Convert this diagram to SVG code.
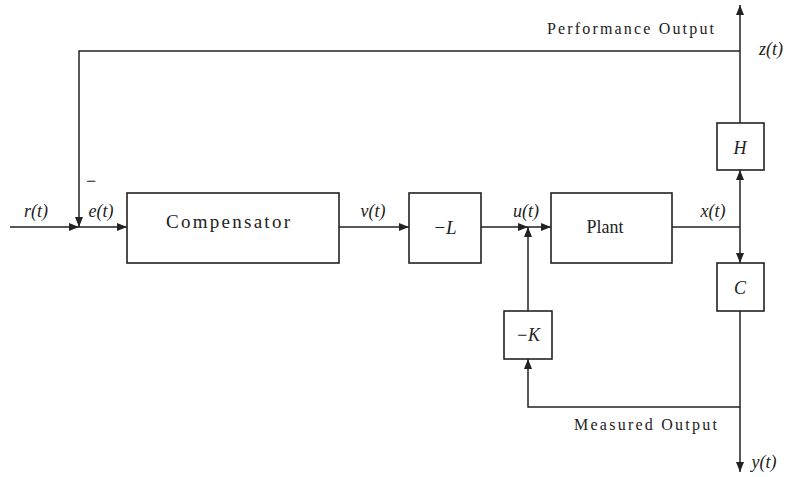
<svg xmlns="http://www.w3.org/2000/svg" width="790" height="477" viewBox="0 0 790 477">
<style>
.box{fill:#fff;stroke:#222;stroke-width:1.6}
.ln{fill:none;stroke:#222;stroke-width:1.5}
.t{font-family:"Liberation Serif","DejaVu Serif",serif;fill:#222}
.m{font-family:"Liberation Serif","DejaVu Serif",serif;font-style:italic;fill:#222}
</style>
<defs>
<marker id="a" viewBox="0 0 10 8" refX="10" refY="4" markerWidth="10" markerHeight="8" markerUnits="userSpaceOnUse" orient="auto">
<path d="M0,0 L10,4 L0,8 Z" fill="#222"/>
</marker>
</defs>
<rect width="790" height="477" fill="#fff"/>
<g id="connectors">
<path class="ln" d="M10,227 H79" marker-end="url(#a)"/>
<path class="ln" d="M740,51 H79 V227" marker-end="url(#a)"/>
<path class="ln" d="M79,227 H127" marker-end="url(#a)"/>
<path class="ln" d="M339,227 H409" marker-end="url(#a)"/>
<path class="ln" d="M481,227 H528" marker-end="url(#a)"/>
<path class="ln" d="M528,227 H551" marker-end="url(#a)"/>
<path class="ln" d="M528,311 V227" marker-end="url(#a)"/>
<path class="ln" d="M672,227 H740"/>
<path class="ln" d="M740,227 V170" marker-end="url(#a)"/>
<path class="ln" d="M740,227 V263" marker-end="url(#a)"/>
<path class="ln" d="M740,123 V5" marker-end="url(#a)"/>
<path class="ln" d="M740,311 V472" marker-end="url(#a)"/>
<path class="ln" d="M740,407 H528 V359" marker-end="url(#a)"/>
</g>
<g id="compensator">
<rect class="box" x="127" y="193" width="212" height="70"/>
<text class="t" x="166" y="228" style="font-size:19px" textLength="124">Compensator</text>
</g>
<g id="gainL">
<rect class="box" x="409" y="193" width="72" height="70"/>
<text class="m" x="445" y="234" text-anchor="middle" style="font-size:19px">−L</text>
</g>
<g id="plant">
<rect class="box" x="551" y="193" width="121" height="70"/>
<text class="t" x="605" y="233" text-anchor="middle" style="font-size:18px">Plant</text>
</g>
<g id="H">
<rect class="box" x="717" y="123" width="47" height="47"/>
<text class="m" x="740" y="154" text-anchor="middle" style="font-size:18px">H</text>
</g>
<g id="C">
<rect class="box" x="717" y="263" width="47" height="48"/>
<text class="m" x="740" y="294" text-anchor="middle" style="font-size:18px">C</text>
</g>
<g id="gainK">
<rect class="box" x="504" y="311" width="48" height="48"/>
<text class="m" x="528" y="341" text-anchor="middle" style="font-size:18px">−K</text>
</g>
<g id="labels" style="font-size:18px">
<text class="m" x="36" y="217" text-anchor="middle">r(t)</text>
<text class="t" x="91" y="187" text-anchor="middle">−</text>
<text class="m" x="101" y="217" text-anchor="middle">e(t)</text>
<text class="m" x="373" y="217" text-anchor="middle">v(t)</text>
<text class="m" x="526" y="217" text-anchor="middle">u(t)</text>
<text class="m" x="713" y="217" text-anchor="middle">x(t)</text>
<text class="m" x="771" y="55" text-anchor="middle">z(t)</text>
<text class="m" x="764" y="468" text-anchor="middle">y(t)</text>
<text class="t" x="547" y="34" style="font-size:16px" textLength="167">Performance Output</text>
<text class="t" x="574" y="430" style="font-size:16px" textLength="143">Measured Output</text>
</g>
</svg>
